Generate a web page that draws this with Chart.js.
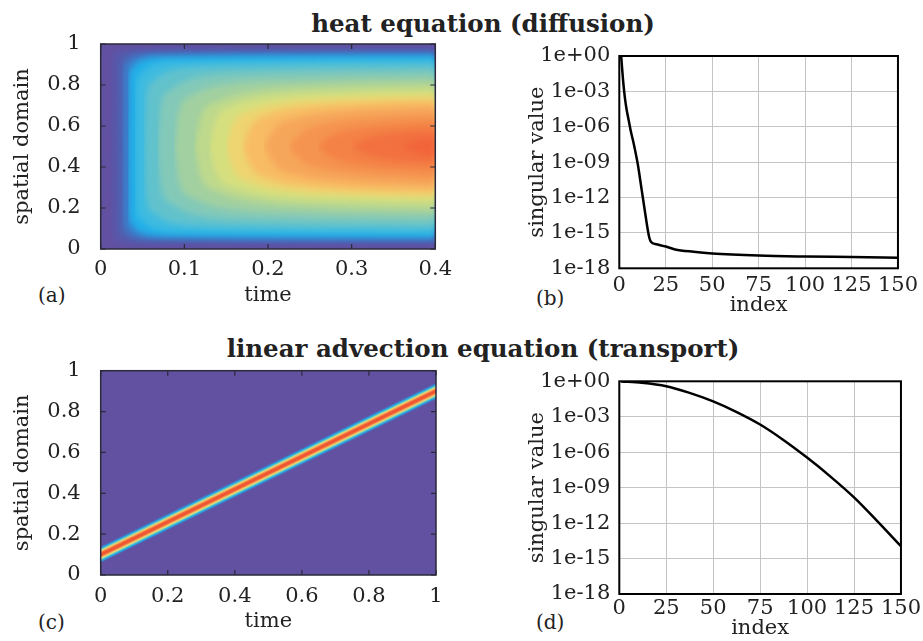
<!DOCTYPE html>
<html>
<head>
<meta charset="utf-8">
<script src="https://cdn.jsdelivr.net/npm/chart.js@4.4.1/dist/chart.umd.min.js"></script>
<style>
  body { margin: 0; background: #fff; }
  #fig { position: relative; width: 923px; height: 641px; overflow: hidden; font-family: "DejaVu Serif", serif; color: #222; }
  .panel { position: absolute; }
  .ttl { position: absolute; font-weight: bold; font-size: 24.5px; line-height: 1; white-space: nowrap; transform: translateX(-50%); }
  .lab { position: absolute; font-size: 20px; line-height: 1; }
</style>
</head>
<body>
<div id="fig">
  <div class="ttl" style="left:483px; top:12px;">heat equation (diffusion)</div>
  <div class="ttl" style="left:483px; top:337px;">linear advection equation (transport)</div>
  <div class="lab" style="left:38px; top:285px;">(a)</div>
  <div class="lab" style="left:536px; top:288px;">(b)</div>
  <div class="lab" style="left:38px; top:612px;">(c)</div>
  <div class="lab" style="left:536px; top:612px;">(d)</div>
  <div class="panel" style="left:0; top:0;"><canvas id="ca" width="460" height="320"></canvas></div>
  <div class="panel" style="left:460px; top:0;"><canvas id="cb" width="463" height="320"></canvas></div>
  <div class="panel" style="left:0; top:320px;"><canvas id="cc" width="460" height="321"></canvas></div>
  <div class="panel" style="left:460px; top:320px;"><canvas id="cd" width="463" height="321"></canvas></div>
</div>
<script>
// ---- data ----

// (a) heat equation: contours of the field, one per colour level.
// each point is [time, distance from the nearest wall]; the level fills [d, 1-d]
var heatContours = [
  [[0.012,0.5],[0.0125,0.15],[0.014,0.06],[0.02,0.032],[0.05,0.024],[0.4,0.022]],
  [[0.019,0.5],[0.0195,0.16],[0.022,0.08],[0.03,0.05],[0.06,0.038],[0.4,0.035]],
  [[0.026,0.5],[0.0265,0.17],[0.029,0.1],[0.037,0.065],[0.07,0.05],[0.4,0.046]],
  [[0.033,0.5],[0.0335,0.18],[0.037,0.12],[0.045,0.085],[0.08,0.062],[0.4,0.056]],
  [[0.041,0.5],[0.042,0.22],[0.047,0.15],[0.06,0.105],[0.1,0.085],[0.4,0.078]],
  [[0.052,0.5],[0.054,0.26],[0.062,0.18],[0.08,0.135],[0.14,0.11],[0.4,0.1]],
  [[0.068,0.5],[0.072,0.3],[0.085,0.22],[0.11,0.17],[0.2,0.14],[0.4,0.13]],
  [[0.088,0.5],[0.094,0.32],[0.11,0.25],[0.14,0.205],[0.25,0.175],[0.4,0.165]],
  [[0.112,0.5],[0.12,0.35],[0.14,0.28],[0.18,0.235],[0.28,0.205],[0.4,0.195]],
  [[0.13,0.5],[0.138,0.37],[0.16,0.3],[0.2,0.26],[0.3,0.235],[0.4,0.225]],
  [[0.15,0.5],[0.158,0.39],[0.18,0.325],[0.22,0.285],[0.3,0.262],[0.4,0.252]],
  [[0.17,0.5],[0.18,0.4],[0.2,0.345],[0.25,0.305],[0.32,0.285],[0.4,0.277]],
  [[0.195,0.5],[0.208,0.41],[0.235,0.36],[0.28,0.33],[0.4,0.305]],
  [[0.225,0.5],[0.24,0.43],[0.27,0.385],[0.32,0.36],[0.4,0.34]],
  [[0.26,0.5],[0.275,0.45],[0.31,0.41],[0.4,0.38]],
  [[0.3,0.5],[0.32,0.46],[0.36,0.43],[0.4,0.42]],
  [[0.36,0.5],[0.38,0.47],[0.4,0.455]]
];

// (c) advection: centre of the travelling pulse
var advTime = [0, 1];
var advCenter = [0.1, 0.9];

// (b) singular values, heat equation
var heatIdx = [1, 2, 3, 4, 5, 6, 8, 10, 12, 14, 16, 17, 20, 25, 30, 40, 50, 75, 100, 125, 150];
var heatSv = [1, 1e-2, 3e-4, 2.5e-5, 4e-6, 6e-7, 2.5e-8, 6e-10, 5e-12, 4e-14, 5e-16, 1.8e-16,
              1.1e-16, 7e-17, 4e-17, 2.5e-17, 1.8e-17, 1.2e-17, 1e-17, 9e-18, 8e-18];

// (d) singular values, advection equation
var advIdx = [1, 12, 25, 37, 50, 62, 75, 87, 100, 112, 125, 137, 150];
var advSv = [0.97, 0.74, 0.38, 0.11, 0.02, 2.75e-3, 2.2e-4, 1.2e-5, 3.5e-7, 1e-8, 1.5e-10, 1.7e-12, 1.1e-14];

// tick labels
var heatTimeTicks = [0, 0.1, 0.2, 0.3, 0.4];
var advTimeTicks = [0, 0.2, 0.4, 0.6, 0.8, 1];
var spaceTicks = [0, 0.2, 0.4, 0.6, 0.8, 1];
var indexTicks = [0, 25, 50, 75, 100, 125, 150];
var svTicks = [1e-18, 1e-15, 1e-12, 1e-9, 1e-6, 1e-3, 1];

// ---- styles ----
var heatColors = ['#5957a9','#4d62b2','#3a7fcc','#22b0e8','#3fbbe0','#62c2cc','#84c9b8','#a2d0a0',
                  '#bed98c','#d6df7e','#eed470','#f8bc64','#f6a65a','#f59350','#f48146','#f2703f','#f1643a'];
var mapBg = '#6250a1';
var bandLayers = [
  {w: 2, c: '#ee5530'}, {w: 4, c: '#f26a3c'}, {w: 6, c: '#f7a85a'}, {w: 8, c: '#d8e07c'},
  {w: 10, c: '#7cc8b8'}, {w: 12.5, c: '#22b0e8'}, {w: 15, c: '#4a6cbc'}
];

Chart.defaults.font.family = '"DejaVu Serif", serif';
Chart.defaults.font.size = 21;
Chart.defaults.color = '#222';
Chart.defaults.animation = false;

var frame = {
  id: 'frame',
  beforeDatasetsDraw: function(chart, args, opts) {
    if (!opts.bg) return;
    var a = chart.chartArea, ctx = chart.ctx;
    ctx.save();
    ctx.fillStyle = opts.bg;
    ctx.fillRect(a.left, a.top, a.right - a.left, a.bottom - a.top);
    ctx.restore();
    // soften the colour steps like the shaded original
    if (opts.blur) ctx.filter = 'blur(' + opts.blur + 'px)';
  },
  afterDatasetsDraw: function(chart) {
    chart.ctx.filter = 'none';
  },
  afterDraw: function(chart, args, opts) {
    var a = chart.chartArea, ctx = chart.ctx;
    ctx.save();
    ctx.strokeStyle = opts.color;
    if (opts.ticks) {
      ctx.lineWidth = 1.2;
      var len = 5;
      var sx = chart.scales.x, sy = chart.scales.y;
      ctx.beginPath();
      sx.ticks.forEach(function(t, i) {
        var p = sx.getPixelForTick(i);
        ctx.moveTo(p, a.bottom); ctx.lineTo(p, a.bottom - len);
        ctx.moveTo(p, a.top); ctx.lineTo(p, a.top + len);
      });
      sy.ticks.forEach(function(t, i) {
        var p = sy.getPixelForTick(i);
        ctx.moveTo(a.left, p); ctx.lineTo(a.left + len, p);
        ctx.moveTo(a.right, p); ctx.lineTo(a.right - len, p);
      });
      ctx.stroke();
    }
    ctx.lineWidth = opts.width;
    ctx.strokeRect(a.left, a.top, a.right - a.left, a.bottom - a.top);
    ctx.restore();
  }
};

function fixed(list) {
  return function(scale) { scale.ticks = list.map(function(v) { return {value: v}; }); };
}
function expLabel(v) {
  var e = Math.round(Math.log10(v));
  return '1e' + (e < 0 ? '-' : '+') + String(Math.abs(e)).padStart(2, '0');
}

function axes(o) {
  return {
    x: {
      type: 'linear', min: o.xmin, max: o.xmax,
      afterBuildTicks: fixed(o.xticks),
      afterFit: function(s) { s.height = o.xh; },
      grid: o.grid ? {color: '#c4c4c4', lineWidth: 1, drawTicks: false} : {display: false, drawTicks: false},
      border: {display: false},
      ticks: {autoSkip: false, maxRotation: 0, padding: o.xpad, callback: function(v) { return String(v); }},
      title: {display: true, text: o.xtitle, padding: {top: 0, bottom: o.xtpad}}
    },
    y: {
      type: o.ylog ? 'logarithmic' : 'linear', min: o.ymin, max: o.ymax,
      afterBuildTicks: fixed(o.yticks),
      afterFit: function(s) { s.width = o.yw; },
      grid: o.grid ? {color: '#c4c4c4', lineWidth: 1, drawTicks: false} : {display: false, drawTicks: false},
      border: {display: false},
      ticks: {autoSkip: false, padding: o.ypad, callback: o.ylog ? expLabel : function(v) { return String(v); }},
      title: {display: true, text: o.ytitle, padding: {top: o.ytpad, bottom: 0}}
    }
  };
}

// (a) heat map
var heatSets = [];
heatContours.forEach(function(pts, k) {
  var upper = pts.map(function(p) { return {x: p[0], y: 1 - p[1]}; });
  var lower = pts.map(function(p) { return {x: p[0], y: p[1]}; });
  heatSets.push({data: upper, fill: '+1', backgroundColor: heatColors[k], borderWidth: 0,
                 cubicInterpolationMode: 'monotone', pointRadius: 0, order: -k, clip: 0});
  heatSets.push({data: lower, fill: false, borderWidth: 0, cubicInterpolationMode: 'monotone',
                 pointRadius: 0, order: -k, clip: 0});
});

new Chart(document.getElementById('ca'), {
  type: 'line',
  data: {datasets: heatSets},
  plugins: [frame],
  options: {
    responsive: false, devicePixelRatio: 1,
    layout: {padding: {left: 0, top: 44, right: 24, bottom: 0}},
    plugins: {legend: {display: false}, tooltip: {enabled: false},
              frame: {bg: mapBg, blur: 3, ticks: true, color: '#2a2a3a', width: 1.5}},
    scales: axes({xmin: 0, xmax: 0.4, xticks: heatTimeTicks, xh: 71, xpad: 8, xtitle: 'time', xtpad: 12,
                  ymin: 0, ymax: 1, yticks: spaceTicks, yw: 100.7, ypad: 20, ytitle: 'spatial domain', ytpad: 10})
  }
});

// (c) advection map
var bandSets = bandLayers.map(function(l) {
  return {
    data: advTime.map(function(t, i) { return {x: t, y: advCenter[i]}; }),
    borderColor: l.c, borderWidth: l.w, borderCapStyle: 'square', pointRadius: 0, fill: false, clip: 0
  };
});

new Chart(document.getElementById('cc'), {
  type: 'line',
  data: {datasets: bandSets},
  plugins: [frame],
  options: {
    responsive: false, devicePixelRatio: 1,
    layout: {padding: {left: 0, top: 50.7, right: 24, bottom: 0}},
    plugins: {legend: {display: false}, tooltip: {enabled: false},
              frame: {bg: mapBg, blur: 0.7, ticks: true, color: '#2a2a3a', width: 1.5}},
    scales: axes({xmin: 0, xmax: 1, xticks: advTimeTicks, xh: 66, xpad: 9, xtitle: 'time', xtpad: 7,
                  ymin: 0, ymax: 1, yticks: spaceTicks, yw: 100.7, ypad: 20, ytitle: 'spatial domain', ytpad: 10})
  }
});

// (b), (d) singular values
function svChart(id, idx, sv, top, xh, xpad, xtpad) {
  new Chart(document.getElementById(id), {
    type: 'line',
    data: {datasets: [{
      data: idx.map(function(v, i) { return {x: v, y: sv[i]}; }),
      borderColor: '#000', borderWidth: 2.5, pointRadius: 0, fill: false,
      cubicInterpolationMode: 'monotone'
    }]},
    plugins: [frame],
    options: {
      responsive: false, devicePixelRatio: 1,
      layout: {padding: {left: 0, top: top, right: 20.3, bottom: 0}},
      plugins: {legend: {display: false}, tooltip: {enabled: false},
                frame: {bg: null, ticks: false, color: '#000', width: 2}},
      scales: axes({xmin: 0, xmax: 150, xticks: indexTicks, xh: xh, xpad: xpad, xtitle: 'index', xtpad: xtpad,
                    grid: true, ylog: true, ymin: 1e-18, ymax: 1, yticks: svTicks, yw: 159.3, ypad: 9,
                    ytitle: 'singular value', ytpad: 65})
    }
  });
}
svChart('cb', heatIdx, heatSv, 56, 51.7, 5, 2);
svChart('cd', advIdx, advSv, 61.3, 47, 2, 0);
</script>
</body>
</html>
